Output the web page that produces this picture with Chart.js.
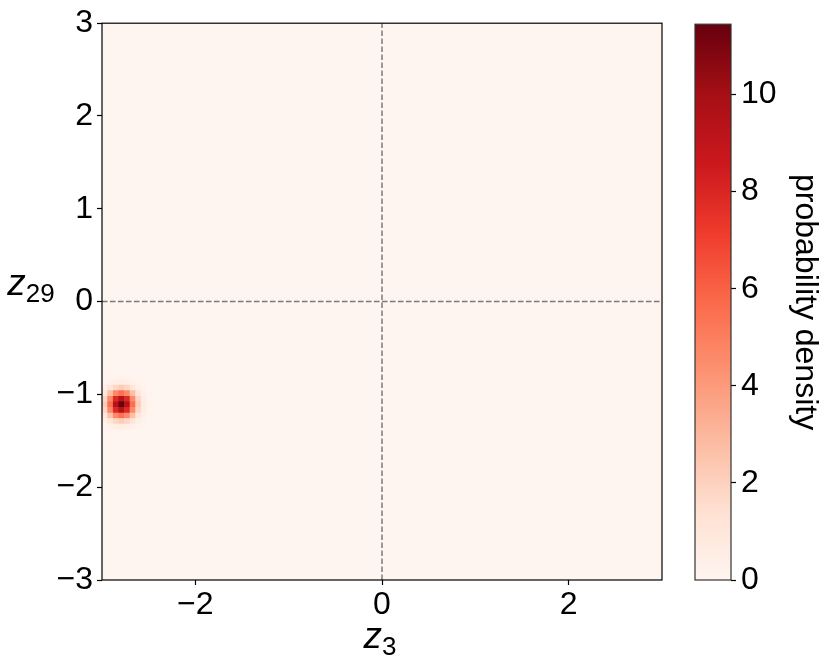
<!DOCTYPE html>
<html>
<head>
<meta charset="utf-8">
<script src="https://cdn.jsdelivr.net/npm/chart.js@4.4.0/dist/chart.umd.min.js"></script>
<style>
  html, body { margin: 0; padding: 0; background: #fff; }
  #wrap { position: relative; width: 831px; height: 665px; overflow: hidden; font-family: 'Liberation Sans', Arial, sans-serif; }
  #main { position: absolute; left: 0; top: 0; }
  #cbar { position: absolute; left: 680px; top: 0; }
  .lbl { position: absolute; font-size: 37px; line-height: 1; color: #000; white-space: nowrap; transform: translate(-50%, -50%); }
  .lbl i { font-style: italic; }
  .lbl sub { font-size: 26px; vertical-align: -0.3em; line-height: 1; }
</style>
</head>
<body>
<div id="wrap">
  <canvas id="main" width="680" height="665"></canvas>
  <canvas id="cbar" width="151" height="665"></canvas>
  <div class="lbl" style="left:380px; top:638px;"><i>z</i><sub>3</sub></div>
  <div class="lbl" style="left:31px; top:285px;"><i>z</i><sub>29</sub></div>
</div>
<script>
// axes / ticks
const xTicks = [-2, 0, 2];
const yTicks = [-3, -2, -1, 0, 1, 2, 3];
const cbTicks = [0, 2, 4, 6, 8, 10];
const axisMin = -3, axisMax = 3;

// density grid: 100 x 100 cells over [-3, 3], zero except around the peak
const cellSize = 0.06;
const peakX = -2.79, peakY = -1.11;   // centre of the darkest cell
const cbMax = 11.45;
// rows: dy = +5 .. -5 (top to bottom), cols: dx = -5 .. +5
const blob = [
  [0.002, 0.008, 0.025, 0.06, 0.10, 0.12, 0.10, 0.06, 0.025, 0.008, 0.002],
  [0.008, 0.035, 0.12, 0.28, 0.5, 0.6, 0.5, 0.28, 0.12, 0.035, 0.008],
  [0.025, 0.12, 0.42, 1.0, 1.8, 2.2, 1.8, 1.0, 0.42, 0.12, 0.025],
  [0.06, 0.28, 1.0, 2.7, 4.6, 5.5, 4.6, 2.7, 1.0, 0.28, 0.06],
  [0.10, 0.5, 1.8, 4.6, 7.9, 9.4, 7.9, 4.6, 1.8, 0.5, 0.10],
  [0.12, 0.6, 2.2, 5.5, 9.4, 11.4, 9.4, 5.5, 2.2, 0.6, 0.12],
  [0.10, 0.5, 1.8, 4.6, 7.9, 9.4, 7.9, 4.6, 1.8, 0.5, 0.10],
  [0.06, 0.28, 1.0, 2.7, 4.6, 5.5, 4.6, 2.7, 1.0, 0.28, 0.06],
  [0.025, 0.12, 0.42, 1.0, 1.8, 2.2, 1.8, 1.0, 0.42, 0.12, 0.025],
  [0.008, 0.035, 0.12, 0.28, 0.5, 0.6, 0.5, 0.28, 0.12, 0.035, 0.008],
  [0.002, 0.008, 0.025, 0.06, 0.10, 0.12, 0.10, 0.06, 0.025, 0.008, 0.002]
];
const half = 5;

// matplotlib "Reds"
const reds = ['#fff5f0', '#fee0d2', '#fcbba1', '#fc9272', '#fb6a4a', '#ef3b2c', '#cb181d', '#a50f15', '#67000d'];

function hexRgb(h) {
  return [parseInt(h.slice(1, 3), 16), parseInt(h.slice(3, 5), 16), parseInt(h.slice(5, 7), 16)];
}
function redsColor(t) {
  t = Math.max(0, Math.min(1, t));
  const p = t * (reds.length - 1);
  const i = Math.min(reds.length - 2, Math.floor(p));
  const f = p - i;
  const a = hexRgb(reds[i]), b = hexRgb(reds[i + 1]);
  const c = a.map((v, k) => Math.round(v + (b[k] - v) * f));
  return `rgb(${c[0]},${c[1]},${c[2]})`;
}

const cells = [];
const cellColors = [];
blob.forEach((row, r) => {
  row.forEach((v, c) => {
    const x = peakX + (c - half) * cellSize;
    const y = peakY + (half - r) * cellSize;
    if (x < axisMin || y < axisMin) return;
    cells.push({ x: x, y: y, v: v });
    cellColors.push(redsColor(v / cbMax));
  });
});

const minus = v => String(v).replace('-', '\u2212');

Chart.defaults.font.family = "'Liberation Sans', Arial, sans-serif";
Chart.defaults.font.size = 32;
Chart.defaults.color = '#000';

const frame = {
  id: 'frame',
  beforeDatasetsDraw(chart, args, opts) {
    const a = chart.chartArea, ctx = chart.ctx;
    ctx.save();
    ctx.fillStyle = opts.fill || 'transparent';
    ctx.fillRect(a.left, a.top, a.right - a.left, a.bottom - a.top);
    ctx.restore();
  },
  afterDatasetsDraw(chart, args, opts) {
    const a = chart.chartArea, ctx = chart.ctx;
    ctx.save();
    ctx.strokeStyle = opts.stroke || '#000';
    ctx.lineWidth = 1.2;
    ctx.strokeRect(a.left, a.top, a.right - a.left, a.bottom - a.top);
    ctx.restore();
  }
};

const tickGrid = { display: true, drawOnChartArea: false, drawTicks: true, tickLength: 5, tickColor: '#000', tickWidth: 1.2 };

new Chart(document.getElementById('main'), {
  type: 'scatter',
  data: {
    datasets: [
      {
        type: 'line', data: [{ x: 0, y: axisMin }, { x: 0, y: axisMax }],
        borderColor: '#7a7a7a', borderWidth: 1.5, borderDash: [5.5, 2.5], pointRadius: 0, fill: false
      },
      {
        type: 'line', data: [{ x: axisMin, y: 0 }, { x: axisMax, y: 0 }],
        borderColor: '#7a7a7a', borderWidth: 1.5, borderDash: [5.5, 2.5], pointRadius: 0, fill: false
      },
      {
        data: cells,
        backgroundColor: cellColors,
        borderWidth: 0,
        pointStyle: 'rect',
        radius: ctx => {
          const xs = ctx.chart.scales.x;
          const px = Math.abs(xs.getPixelForValue(cellSize) - xs.getPixelForValue(0)) + 0.6;
          return px / Math.SQRT2;
        }
      }
    ]
  },
  options: {
    responsive: false,
    animation: false,
    events: [],
    layout: { padding: { top: 20, right: 18, bottom: 0, left: 0 } },
    plugins: { legend: { display: false }, tooltip: { enabled: false }, frame: { fill: '#fff5f0', stroke: '#000' } },
    scales: {
      x: {
        type: 'linear', min: axisMin, max: axisMax,
        afterBuildTicks: s => { s.ticks = xTicks.map(v => ({ value: v })); },
        afterFit: s => { s.height = 85; },
        ticks: { padding: 1, callback: minus, maxRotation: 0 },
        grid: tickGrid,
        border: { display: false }
      },
      y: {
        type: 'linear', min: axisMin, max: axisMax,
        afterBuildTicks: s => { s.ticks = yTicks.map(v => ({ value: v })); },
        afterFit: s => { s.width = 102; },
        ticks: { padding: 4, callback: minus },
        grid: tickGrid,
        border: { display: false }
      }
    }
  },
  plugins: [frame]
});

new Chart(document.getElementById('cbar'), {
  type: 'bar',
  data: {
    labels: [''],
    datasets: [{
      data: [cbMax],
      borderWidth: 0,
      barPercentage: 1,
      categoryPercentage: 1,
      backgroundColor: ctx => {
        const area = ctx.chart.chartArea;
        if (!area) return reds[0];
        const g = ctx.chart.ctx.createLinearGradient(0, area.bottom, 0, area.top);
        reds.forEach((c, i) => g.addColorStop(i / (reds.length - 1), c));
        return g;
      }
    }]
  },
  options: {
    responsive: false,
    animation: false,
    events: [],
    layout: { padding: { top: 20, right: 0, bottom: 85, left: 15 } },
    plugins: { legend: { display: false }, tooltip: { enabled: false }, frame: { stroke: '#333' } },
    scales: {
      x: { display: false },
      y: {
        position: 'right', min: 0, max: cbMax,
        afterBuildTicks: s => { s.ticks = cbTicks.map(v => ({ value: v })); },
        afterFit: s => { s.width = 100; },
        ticks: { padding: 5 },
        grid: tickGrid,
        border: { display: false },
        title: { display: true, text: 'probability density', padding: { top: 7, bottom: 0 } }
      }
    }
  },
  plugins: [frame]
});
</script>
</body>
</html>
